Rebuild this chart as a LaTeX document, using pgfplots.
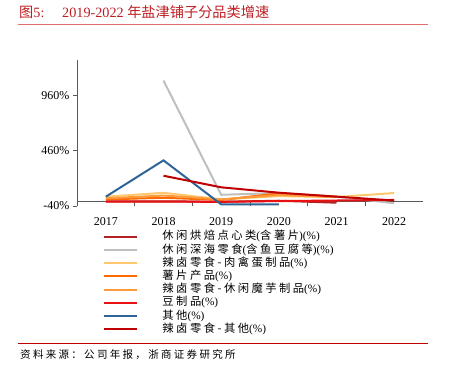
\documentclass[border=0pt]{standalone}
\usepackage{pgfplots}
\pgfplotsset{compat=1.18}
\usepackage{fontspec}
\setmainfont{Liberation Serif}
\newfontfamily\cjk{Noto Sans CJK SC}
\newfontfamily\cjkls[LetterSpace=22]{Noto Sans CJK SC}
\definecolor{titlered}{RGB}{190,30,35}
\definecolor{ruleline}{RGB}{224,110,110}
\definecolor{axisgray}{RGB}{89,89,89}
\definecolor{cA}{RGB}{178,34,34}
\definecolor{cB}{RGB}{191,191,191}
\definecolor{cC}{RGB}{255,200,110}
\definecolor{cD}{RGB}{255,106,0}
\definecolor{cE}{RGB}{255,154,60}
\definecolor{cF}{RGB}{232,16,16}
\definecolor{cG}{RGB}{47,100,150}
\definecolor{cH}{RGB}{192,0,0}
\begin{document}
\begin{tikzpicture}
\path (0pt,0pt) rectangle (454pt,-376pt);
% title
\node[anchor=west,inner sep=0pt,text=titlered,font=\fontsize{14.2}{16}\selectfont] at (19pt,-12pt) {{\cjk 图}5:};
\node[anchor=west,inner sep=0pt,text=titlered,font=\fontsize{14.2}{16}\selectfont] at (62pt,-12pt) {2019-2022 {\cjk 年盐津铺子分品类增速}};
\draw[ruleline,line width=1pt] (18pt,-24.5pt) -- (428pt,-24.5pt);
% source
\draw[cH,line width=0.8pt] (18pt,-343.5pt) -- (428pt,-343.5pt);
\node[anchor=west,inner sep=0pt,font=\fontsize{10.5}{12}\selectfont] at (20pt,-355pt) {\cjkls 资料来源：公司年报，浙商证券研究所};
\begin{axis}[
  scale only axis, width=346pt, height=146pt,
  at={(77pt,-206pt)}, anchor=south west,
  xmin=0, xmax=6, ymin=-40, ymax=1287,
  axis y line=left, axis x line=middle,
  axis line style={-, draw=axisgray, line width=1pt},
  tick align=outside,
  tick style={draw=axisgray, line width=1pt},
  major tick length=4pt,
  xtick={1,2,3,4,5}, xticklabels={},
  extra x ticks={0.5,1.5,2.5,3.5,4.5,5.5},
  extra x tick labels={2017,2018,2019,2020,2021,2022},
  extra x tick style={major tick length=0pt, xticklabel style={yshift=-12pt}},
  ytick={-40,460,960}, yticklabels={-40\%,460\%,960\%},
  ticklabel style={font=\fontsize{12}{14}\selectfont},
  clip=false,
  every axis plot/.append style={line width=2pt, no markers},
  legend cell align=left,
  legend image code/.code={\draw[#1,line width=2pt] (0pt,0pt) -- (33pt,0pt);},
  legend style={draw=none, fill=none, inner sep=0pt, outer sep=0pt,
    at={(axis description cs:0.075,-0.166)}, anchor=north west,
    font=\fontsize{11.3}{12}\selectfont,
    nodes={text height=8.2pt, text depth=2pt, inner sep=1.5pt},
    row sep=0pt,
    /tikz/every odd column/.append style={column sep=23pt}},
]
\addplot[cA] coordinates {(0.5,2) (1.5,3) (2.5,-2) (3.5,8) (4.5,-10)};
\addlegendentry{{\cjkls 休闲烘焙点心类}({\cjkls 含薯片})(\%)}
\addplot[cB] coordinates {(1.5,1100) (2.5,62) (3.5,78) (4.5,45) (5.5,-15)};
\addlegendentry{{\cjkls 休闲深海零食}({\cjkls 含鱼豆腐等})(\%)}
\addplot[cC] coordinates {(0.5,45) (1.5,80) (2.5,20) (3.5,50) (4.5,42) (5.5,78)};
\addlegendentry{{\cjkls 辣卤零食-肉禽蛋制品}(\%)}
\addplot[cD] coordinates {(0.5,20) (1.5,35) (2.5,15) (3.5,75) (4.5,45)};
\addlegendentry{{\cjkls 薯片产品}(\%)}
\addplot[cE] coordinates {(0.5,30) (1.5,55) (2.5,20) (3.5,60) (4.5,40)};
\addlegendentry{{\cjkls 辣卤零食-休闲魔芋制品}(\%)}
\addplot[cF] coordinates {(0.5,0) (1.5,0) (2.5,-2) (3.5,5) (4.5,10) (5.5,15)};
\addlegendentry{{\cjkls 豆制品}(\%)}
\addplot[cG] coordinates {(0.5,45) (1.5,375) (2.5,-25) (3.5,-25)};
\addlegendentry{{\cjkls 其他}(\%)}
\addplot[cH] coordinates {(1.5,235) (2.5,130) (3.5,81) (4.5,45) (5.5,10)};
\addlegendentry{{\cjkls 辣卤零食-其他}(\%)}
\end{axis}
\end{tikzpicture}
\end{document}
